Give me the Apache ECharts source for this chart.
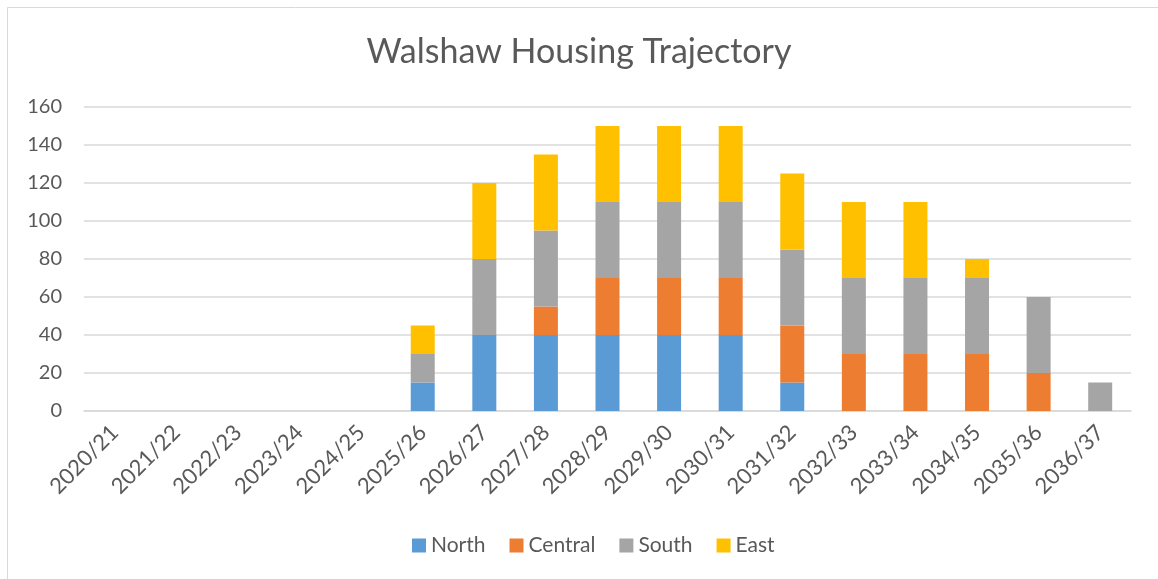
<!DOCTYPE html>
<html>
<head>
<meta charset="utf-8">
<script src="https://cdn.jsdelivr.net/npm/echarts@6/dist/echarts.min.js"></script>
<style>html,body{margin:0;padding:0;background:#fff}#c{width:1158px;height:579px}</style>
</head>
<body>
<div id="c"></div>
<script>
const categories = ['2020/21','2021/22','2022/23','2023/24','2024/25','2025/26','2026/27','2027/28','2028/29','2029/30','2030/31','2031/32','2032/33','2033/34','2034/35','2035/36','2036/37'];
const north   = [null,null,null,null,null,15,40,40,40,40,40,15,null,null,null,null,null];
const central = [null,null,null,null,null,null,null,15,30,30,30,30,30,30,30,20,null];
const south   = [null,null,null,null,null,15,40,40,40,40,40,40,40,40,40,40,15];
const east    = [null,null,null,null,null,15,40,40,40,40,40,40,40,40,10,null,null];
const yTicks = {min: 0, max: 160, interval: 20};

const font = 'Lato, "Open Sans", sans-serif';
const txt = '#595959';
function s(name, data, color) {
  return {name, type: 'bar', stack: 'total', data, barWidth: 24,
    itemStyle: {color}, emphasis: {disabled: true}};
}
const chart = echarts.init(document.getElementById('c'), null, {renderer: 'canvas'});
chart.setOption({
  animation: false,
  backgroundColor: '#fff',
  graphic: [{type: 'rect', shape: {x: 7.5, y: 7.5, width: 1170, height: 600},
    style: {fill: 'none', stroke: '#d9d9d9', lineWidth: 1}, z: -1}],
  title: {text: 'Walshaw Housing Trajectory', left: 'center', top: 30,
    textStyle: {fontFamily: font, fontSize: 34, fontWeight: 'normal', color: txt}},
  legend: {bottom: 18, left: 407, itemWidth: 14, itemHeight: 14, itemGap: 24,
    icon: 'rect', textStyle: {fontFamily: font, fontSize: 21, color: txt},
    data: ['North','Central','South','East']},
  grid: {left: 84, right: 27, top: 107, bottom: 168},
  xAxis: {type: 'category', data: categories,
    axisLine: {lineStyle: {color: '#d9d9d9', width: 1.5}},
    axisTick: {show: false},
    axisLabel: {rotate: 45, margin: 18, interval: 0, fontFamily: font, fontSize: 22, color: txt}},
  yAxis: {type: 'value', min: yTicks.min, max: yTicks.max, interval: yTicks.interval,
    axisLine: {show: false}, axisTick: {show: false},
    splitLine: {lineStyle: {color: '#d9d9d9', width: 1.5}},
    axisLabel: {margin: 22, fontFamily: font, fontSize: 20, color: txt}},
  series: [
    s('North', north, '#5B9BD5'),
    s('Central', central, '#ED7D31'),
    s('South', south, '#A5A5A5'),
    s('East', east, '#FFC000')
  ]
});
</script>
</body>
</html>
